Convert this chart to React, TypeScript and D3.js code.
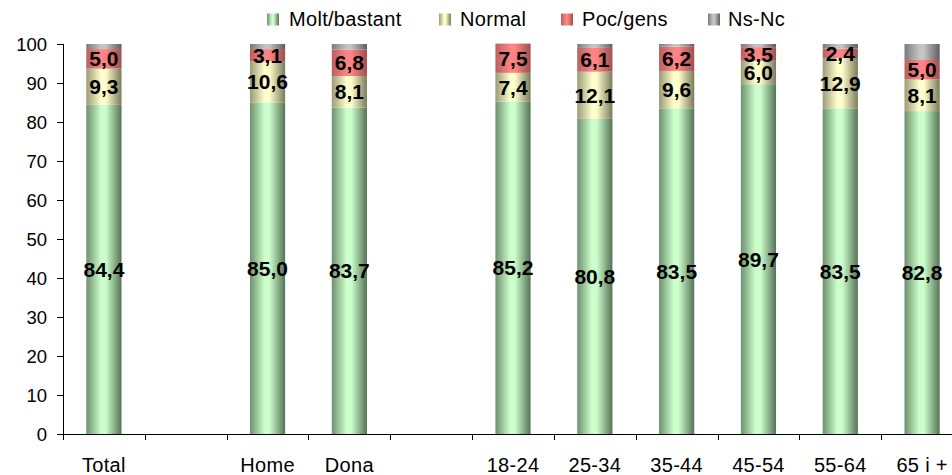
import React from "react";
import * as d3 from "d3";

const categories = ["Total", "", "Home", "Dona", "", "18-24", "25-34", "35-44", "45-54", "55-64", "65 i +"];
const seriesNames = ["Molt/bastant", "Normal", "Poc/gens", "Ns-Nc"];
const molt = [84.4, null, 85.0, 83.7, null, 85.2, 80.8, 83.5, 89.7, 83.5, 82.8];
const normal = [9.3, null, 10.6, 8.1, null, 7.4, 12.1, 9.6, 6.0, 12.9, 8.1];
const poc = [5.0, null, 3.1, 6.8, null, 7.5, 6.1, 6.2, 3.5, 2.4, 5.0];
const nsnc = [1.3, null, 1.3, 1.4, null, 0, 1.0, 0.7, 0.8, 1.2, 4.1];
const yTicks = [0, 10, 20, 30, 40, 50, 60, 70, 80, 90, 100];

const W = 952;
const H = 475;
const FONT = "Arial, 'Liberation Sans', sans-serif";

const grads = [
  { id: "gMolt", edgeL: "#6f906f", mid: "#ccffcc", edgeR: "#557355" },
  { id: "gNormal", edgeL: "#9a9a78", mid: "#ffffcc", edgeR: "#7a7a5c" },
  { id: "gPoc", edgeL: "#b86060", mid: "#ff8484", edgeR: "#a04f4f" },
  { id: "gNs", edgeL: "#7a7a7a", mid: "#c4c4c4", edgeR: "#5e5e5e" },
];

const legendPos = [
  { sx: 267, tx: 289 },
  { sx: 439, tx: 460 },
  { sx: 561, tx: 582 },
  { sx: 708, tx: 728 },
];

export default function App() {
  const x = d3
    .scaleBand<number>()
    .domain(categories.map((_, i) => i))
    .range([63, 963])
    .paddingInner(0.57)
    .paddingOuter(0.285);
  const step = 900 / categories.length;
  const y = d3.scaleLinear().domain([0, 100]).range([434, 44]);

  const series = [molt, normal, poc, nsnc];
  const bars: React.ReactNode[] = [];
  const labels: React.ReactNode[] = [];
  categories.forEach((c, i) => {
    let acc = 0;
    series.forEach((s, k) => {
      const v = s[i];
      if (v == null) return;
      const y0 = y(acc);
      const y1 = y(acc + v);
      bars.push(
        <rect
          key={`b${i}-${k}`}
          x={x(i)}
          y={y1}
          width={x.bandwidth()}
          height={Math.max(0, y0 - y1)}
          fill={`url(#${grads[k].id})`}
        />
      );
      if (k < 3) {
        labels.push(
          <text
            key={`l${i}-${k}`}
            x={(x(i) as number) + x.bandwidth() / 2}
            y={(y0 + y1) / 2}
            dy="0.36em"
            textAnchor="middle"
            fontFamily={FONT}
            fontWeight="bold"
            fontSize={21}
            fill="#000"
          >
            {v.toFixed(1).replace(".", ",")}
          </text>
        );
      }
      acc += v;
    });
  });

  const boundaries = d3.range(categories.length + 1).map((i) => 63 + i * step);

  return (
    <svg
      width={W}
      height={H}
      style={{ position: "absolute", left: 0, top: 0, background: "#fff" }}
    >
      <defs>
        {grads.map((g) => (
          <linearGradient key={g.id} id={g.id} x1="0" x2="1" y1="0" y2="0">
            <stop offset="0%" stopColor={g.edgeL} />
            <stop offset="42%" stopColor={g.mid} />
            <stop offset="55%" stopColor={g.mid} />
            <stop offset="100%" stopColor={g.edgeR} />
          </linearGradient>
        ))}
      </defs>
      <rect x={0} y={0} width={W} height={H} fill="#fff" />

      {/* legend */}
      {seriesNames.map((n, k) => (
        <g key={n}>
          <rect x={legendPos[k].sx} y={13.5} width={12} height={12} fill={`url(#${grads[k].id})`} />
          <text
            x={legendPos[k].tx}
            y={26}
            fontFamily={FONT}
            fontSize={20}
            letterSpacing={0.3}
            fill="#000"
          >
            {n}
          </text>
        </g>
      ))}

      {bars}

      {/* y axis */}
      <line x1={63.5} x2={63.5} y1={44} y2={434} stroke="#000" strokeWidth={1} />
      {yTicks.map((t) => (
        <g key={t}>
          <line x1={57} x2={63.5} y1={Math.round(y(t)) + 0.5} y2={Math.round(y(t)) + 0.5} stroke="#000" />
          <text
            x={47}
            y={y(t)}
            dy="0.36em"
            textAnchor="end"
            fontFamily={FONT}
            fontSize={18.5}
            fill="#000"
          >
            {t}
          </text>
        </g>
      ))}

      {/* x axis */}
      <line x1={63} x2={963} y1={434.5} y2={434.5} stroke="#000" strokeWidth={1} />
      {boundaries.map((b, i) => (
        <line key={i} x1={Math.round(b) + 0.5} x2={Math.round(b) + 0.5} y1={434.5} y2={440} stroke="#000" />
      ))}
      {categories.map((c, i) => (
        <text
          key={`c${i}`}
          x={(x(i) as number) + x.bandwidth() / 2}
          y={472}
          textAnchor="middle"
          fontFamily={FONT}
          fontSize={20}
          letterSpacing={0.3}
          fill="#000"
        >
          {c}
        </text>
      ))}

      {labels}
    </svg>
  );
}
